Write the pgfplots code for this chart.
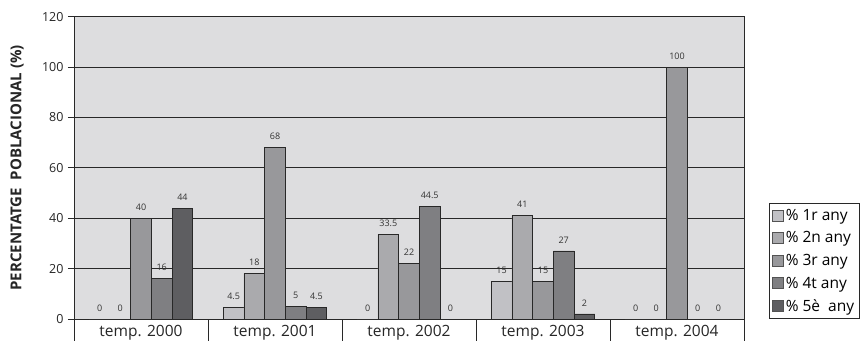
\documentclass[border=0pt]{standalone}
\usepackage{pgfplots}
\pgfplotsset{compat=1.18}
\usepackage{fontspec}
\setmainfont{Open Sans}
\definecolor{bg}{RGB}{221,221,223}
\definecolor{sA}{RGB}{193,193,197}
\definecolor{sB}{RGB}{170,170,173}
\definecolor{sC}{RGB}{152,152,155}
\definecolor{sD}{RGB}{127,127,130}
\definecolor{sE}{RGB}{94,94,97}
\definecolor{edge}{RGB}{40,40,40}
\begin{document}
\begin{tikzpicture}
\path[use as bounding box] (0,0) rectangle (864pt,341pt);
\begin{axis}[
  at={(74pt,22pt)}, anchor=south west,
  scale only axis, width=670pt, height=302.3pt,
  clip=false,
  xmin=-0.5, xmax=4.5, ymin=0, ymax=120,
  ybar=0pt, bar width=20.7pt,
  axis background/.style={fill=bg},
  axis line style={edge, line width=0.8pt},
  ymajorgrids, grid style={edge, line width=0.8pt},
  ytick={0,20,...,120},
  ytick pos=left, tick align=outside,
  major tick length=6pt,
  /pgf/number format/assume math mode=true,
  yticklabel style={font=\fontsize{12.5}{12.5}\selectfont, color=black!85, xshift=-1pt},
  xtick={0,1,2,3,4},
  xticklabels={temp. 2000,temp. 2001,temp. 2002,temp. 2003,temp. 2004},
  xticklabel style={font=\fontsize{15.5}{15.5}\selectfont, color=black!85, yshift=3.5pt},
  x tick style={draw=none},
  y tick style={edge, line width=0.8pt},
  ylabel={\textbf{PERCENTATGE\ \ POBLACIONAL (\%)}},
  ylabel style={at={(axis description cs:-0.085,0.5)}, anchor=center, font=\fontsize{15}{15}\selectfont, color=black!85},
  nodes near coords,
  every node near coord/.append style={font=\fontsize{9}{9}\selectfont, color=black!80, yshift=4pt},
  legend style={at={(1,0)}, anchor=south west, xshift=25pt, draw=edge, line width=0.6pt,
    font=\fontsize{15.5}{15.5}\selectfont, row sep=5.8pt, inner xsep=3pt, inner ysep=4pt,
    cells={anchor=west}},
  legend image code/.code={\draw[#1, draw=edge!80, line width=0.5pt] (0pt,-5.5pt) rectangle (11pt,5.5pt);},
  every axis plot/.append style={draw=edge, line width=0.9pt},
]
\addplot[fill=sA] coordinates {(0,0) (1,4.5) (2,0) (3,15) (4,0)};
\addplot[fill=sB] coordinates {(0,0) (1,18) (2,33.5) (3,41) (4,0)};
\addplot[fill=sC] coordinates {(0,40) (1,68) (2,22) (3,15) (4,100)};
\addplot[fill=sD] coordinates {(0,16) (1,5) (2,44.5) (3,27) (4,0)};
\addplot[fill=sE] coordinates {(0,44) (1,4.5) (2,0) (3,2) (4,0)};
\legend{\% 1r any,\% 2n any,\% 3r any,\% 4t any,\% 5è\ \ any}
\pgfplotsinvokeforeach{-0.5,0.5,1.5,2.5,3.5,4.5}{\draw[edge, line width=0.8pt] (axis cs:#1,0) -- ++(0pt,-22pt);}
\end{axis}
\end{tikzpicture}
\end{document}
